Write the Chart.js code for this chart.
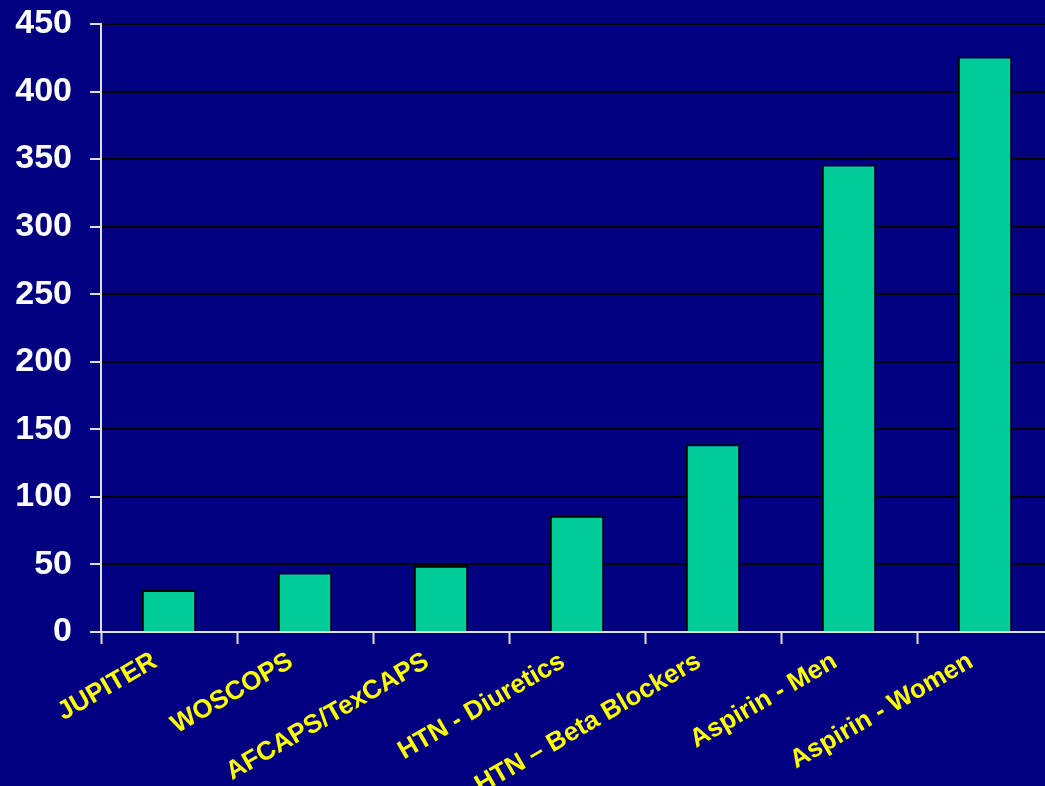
<!DOCTYPE html>
<html>
<head>
<meta charset="utf-8">
<script src="https://cdn.jsdelivr.net/npm/chart.js@4.4.1/dist/chart.umd.min.js"></script>
<style>
  html, body { margin: 0; padding: 0; background: #000080; overflow: hidden; }
  #wrap { width: 1045px; height: 786px; overflow: hidden; }
</style>
</head>
<body>
<div id="wrap"><canvas id="myChart" width="1053" height="786"></canvas></div>
<script>
const categories = ["JUPITER", "WOSCOPS", "AFCAPS/TexCAPS", "HTN - Diuretics",
  "HTN \u2013 Beta Blockers", "Aspirin - Men", "Aspirin - Women"];
const values = [31, 44, 49, 86, 139, 346, 426];
const yTicks = [0, 50, 100, 150, 200, 250, 300, 350, 400, 450];

const ctx = document.getElementById("myChart");
new Chart(ctx, {
  type: "bar",
  data: {
    labels: categories,
    datasets: [
      {
        data: values,
        backgroundColor: "#00CC99",
        borderColor: "#000000",
        borderWidth: 2,
        borderSkipped: "bottom",
        categoryPercentage: 1,
        barPercentage: 0.4,
      },
    ],
  },
  options: {
    responsive: false,
    animation: false,
    layout: { padding: { top: 24, right: 0, left: 0, bottom: 0 } },
    plugins: { legend: { display: false }, tooltip: { enabled: false } },
    scales: {
      x: {
        afterFit: function (scale) { scale.height = 154; },
        grid: {
          offset: true,
          drawOnChartArea: false,
          tickLength: 12,
          tickColor: "#e0e0e0",
          tickWidth: 2,
        },
        border: { color: "#e0e0e0", width: 2 },
        ticks: {
          color: "#FFFF00",
          font: { family: "Liberation Sans, Arial", weight: "bold", size: 26 },
          minRotation: 30,
          maxRotation: 30,
          padding: 2,
          labelOffset: -14,
        },
      },
      y: {
        min: 0,
        max: 450,
        afterFit: function (scale) {
          scale.width = 101;
          // let the top label overhang instead of pushing the plot down
          scale.paddingTop = 0;
          scale.paddingBottom = 0;
        },
        afterBuildTicks: function (scale) {
          scale.ticks = yTicks.map(function (v) { return { value: v }; });
        },
        grid: {
          color: "#000000",
          lineWidth: 2,
          tickLength: 11,
          tickColor: "#e0e0e0",
          tickWidth: 2,
        },
        border: { color: "#e0e0e0", width: 2 },
        ticks: {
          color: "#ffffff",
          font: { family: "Liberation Sans, Arial", weight: "bold", size: 34 },
          padding: 18,
        },
      },
    },
  },
});
</script>
</body>
</html>
